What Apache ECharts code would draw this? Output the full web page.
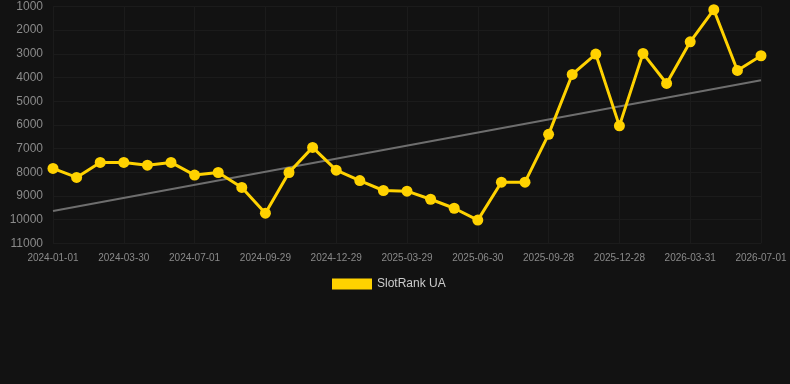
<!DOCTYPE html>
<html>
<head>
<meta charset="utf-8">
<script src="https://cdn.jsdelivr.net/npm/echarts@6/dist/echarts.min.js"></script>
<style>
  html, body { margin: 0; padding: 0; background: #121212; }
  #chart { width: 790px; height: 384px; }
</style>
</head>
<body>
<div id="chart"></div>
<script>
const dates = [
    '2024-01-01', '2024-01-31', '2024-03-01', '2024-03-30', '2024-04-30', '2024-05-31',
    '2024-07-01', '2024-07-31', '2024-08-30', '2024-09-29', '2024-10-29', '2024-11-29',
    '2024-12-29', '2025-01-28', '2025-02-27', '2025-03-29', '2025-04-29', '2025-05-30',
    '2025-06-30', '2025-07-30', '2025-08-29', '2025-09-28', '2025-10-28', '2025-11-27',
    '2025-12-28', '2026-01-28', '2026-02-28', '2026-03-31', '2026-04-30', '2026-05-31',
    '2026-07-01'
];

const rankValues = [
    7840, 8220, 7585, 7585, 7700, 7585,
    8120, 8010, 8640, 9730, 8010, 6950,
    7910, 8350, 8770, 8800, 9140, 9520,
    10020, 8420, 8420, 6400, 3870, 3010,
    6040, 2980, 4250, 2490, 1135, 3700,
    3080
];

// trend line end points (first and last date)
const trendValues = [9640, 4110];

const yTicks = { min: 1000, max: 11000, interval: 1000 };

const textColor = '#8a8a8a';
const gridLineColor = '#1b1b1b';
const lineColor = '#ffd200';
const fontFamily = 'Liberation Sans, Arial, sans-serif';

const chart = echarts.init(document.getElementById('chart'));

chart.setOption({
    backgroundColor: '#121212',
    animation: false,
    grid: { left: 53, right: 29, top: 6.5, bottom: 140.7 },
    legend: {
        data: ['SlotRank UA'],
        top: 273,
        left: 327,
        itemWidth: 40,
        itemHeight: 11,
        icon: 'rect',
        textStyle: { color: '#cccccc', fontSize: 12, fontFamily: fontFamily }
    },
    xAxis: {
        type: 'category',
        data: dates,
        boundaryGap: false,
        axisLine: { show: false },
        axisTick: { show: false },
        axisLabel: {
            interval: 2,
            color: textColor,
            fontSize: 10,
            margin: 10,
            fontFamily: fontFamily
        },
        splitLine: { show: true, interval: 2, lineStyle: { color: gridLineColor, width: 1 } }
    },
    yAxis: {
        type: 'value',
        inverse: true,
        min: yTicks.min,
        max: yTicks.max,
        interval: yTicks.interval,
        axisLine: { show: false },
        axisTick: { show: false },
        axisLabel: {
            color: textColor,
            fontSize: 12,
            margin: 10,
            fontFamily: fontFamily,
            formatter: value => String(value)
        },
        splitLine: { lineStyle: { color: gridLineColor, width: 1 } }
    },
    series: [
        {
            name: 'Trend',
            type: 'line',
            data: [[dates[0], trendValues[0]], [dates[dates.length - 1], trendValues[1]]],
            symbol: 'none',
            lineStyle: { color: '#6e6e6e', width: 2 },
            z: 1
        },
        {
            name: 'SlotRank UA',
            type: 'line',
            data: rankValues,
            symbol: 'circle',
            symbolSize: 11,
            itemStyle: { color: lineColor },
            lineStyle: { color: lineColor, width: 3 },
            z: 2
        }
    ]
});
</script>
</body>
</html>
